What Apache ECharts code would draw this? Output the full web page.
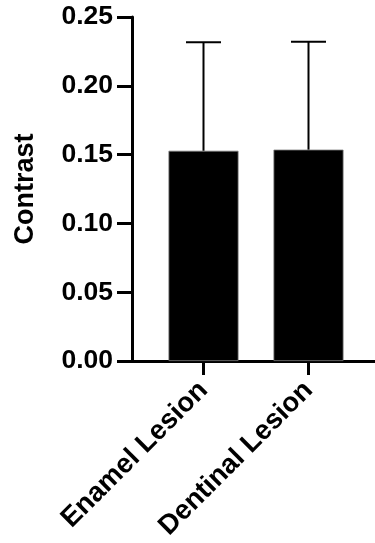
<!DOCTYPE html>
<html><head><meta charset="utf-8">
<script src="https://cdn.jsdelivr.net/npm/echarts@6/dist/echarts.min.js"></script>
<style>html,body{margin:0;padding:0;background:#fff}#c{width:375px;height:543px}</style>
</head><body><div id="c"></div>
<script>
var categories = ['Enamel Lesion', 'Dentinal Lesion'];
var means = [0.1528, 0.1536];
var errors = [0.0788, 0.0785];
var yTicks = [0, 0.05, 0.10, 0.15, 0.20, 0.25];

var font = 'Liberation Sans, Arial, sans-serif';
var chart = echarts.init(document.getElementById('c'));
var errData = categories.map(function (c, i) { return [i, means[i], means[i] + errors[i]]; });

chart.setOption({
  animation: false,
  grid: [
    { left: 151, width: 210, top: 17, height: 344 },
    { left: 132, right: 0, top: 17, height: 344 }
  ],
  xAxis: [
    { type: 'category', gridIndex: 0, data: categories,
      axisLine: { show: false },
      axisTick: { show: true, alignWithLabel: true, length: 14, lineStyle: { color: '#000', width: 3 } },
      axisLabel: { rotate: 45, margin: 25, color: '#000', fontFamily: font, fontWeight: 'bold', fontSize: 27.5 } },
    { type: 'value', gridIndex: 1, min: 0, max: 1,
      axisLine: { show: true, lineStyle: { color: '#000', width: 3 } },
      axisTick: { show: false }, axisLabel: { show: false }, splitLine: { show: false } }
  ],
  yAxis: [
    { type: 'value', gridIndex: 0, min: 0, max: 0.25, interval: 0.05, show: false },
    { type: 'value', gridIndex: 1, min: yTicks[0], max: yTicks[yTicks.length - 1], interval: 0.05,
      name: 'Contrast', nameLocation: 'middle', nameRotate: 90, nameGap: 93,
      nameTextStyle: { color: '#000', fontFamily: font, fontWeight: 'bold', fontSize: 27 },
      axisLine: { show: true, lineStyle: { color: '#000', width: 3 } },
      axisTick: { show: true, length: 15, lineStyle: { color: '#000', width: 3 } },
      axisLabel: { margin: 19, color: '#000', fontFamily: font, fontWeight: 'bold', fontSize: 26.5,
        formatter: function (v) { return v.toFixed(2); } },
      splitLine: { show: false } }
  ],
  series: [
    { type: 'bar', xAxisIndex: 0, yAxisIndex: 0, data: means, barWidth: 70,
      itemStyle: { color: '#000', borderColor: '#777', borderWidth: 0.8 } },
    { type: 'custom', xAxisIndex: 0, yAxisIndex: 0, data: errData, z: 3,
      renderItem: function (params, api) {
        var base = api.coord([api.value(0), api.value(1)]);
        var top = api.coord([api.value(0), api.value(2)]);
        var half = 17.5;
        return { type: 'group', children: [
          { type: 'line', shape: { x1: base[0], y1: base[1], x2: top[0], y2: top[1] }, style: { stroke: '#000', lineWidth: 2 } },
          { type: 'line', shape: { x1: top[0] - half, y1: top[1], x2: top[0] + half, y2: top[1] }, style: { stroke: '#000', lineWidth: 2 } }
        ] };
      } }
  ]
});
</script></body></html>
